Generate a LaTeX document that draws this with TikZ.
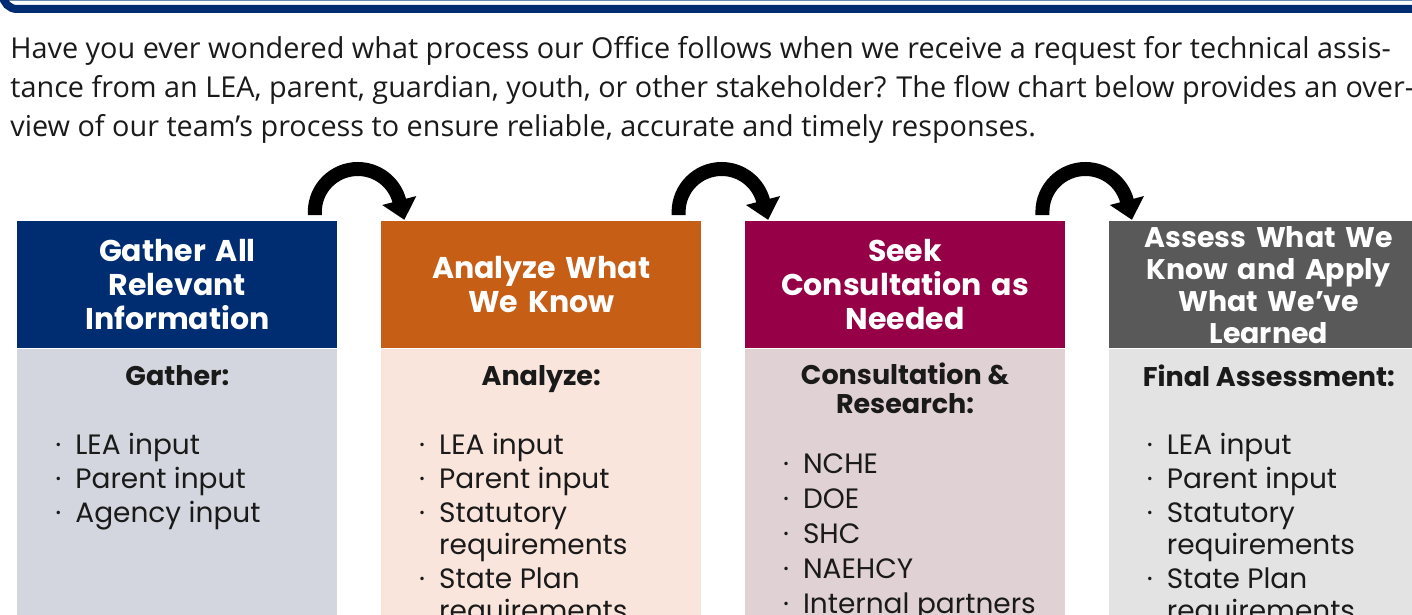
\documentclass[tikz,border=0pt]{standalone}
\usepackage{fontspec}
\setmainfont{Poppins}
\newfontfamily\introfont{Open Sans}
\usetikzlibrary{positioning,arrows.meta}

\definecolor{navyhd}{HTML}{002D72}
\definecolor{orangehd}{HTML}{C65E15}
\definecolor{maroonhd}{HTML}{950046}
\definecolor{grayhd}{HTML}{595959}
\definecolor{navybd}{HTML}{D3D6DE}
\definecolor{orangebd}{HTML}{FAE5DD}
\definecolor{maroonbd}{HTML}{E0D1D5}
\definecolor{graybd}{HTML}{E3E3E3}
\definecolor{framecol}{HTML}{6E88B0}
\definecolor{inktext}{HTML}{1A1A1A}

\newcommand\bul[1]{\makebox[10pt][l]{\textperiodcentered}#1}
\newcommand\cont[1]{\hspace*{10pt}#1}

\begin{document}
\begin{tikzpicture}[x=0.5pt,y=-0.5pt,
	header/.style={rectangle,anchor=north west,inner sep=0pt,minimum width=160pt,
		minimum height=63.5pt,text width=154pt,align=center,text=white,
		font=\bfseries\fontsize{15}{17}\selectfont},
	panel/.style={rectangle,inner sep=0pt,minimum width=160pt,minimum height=140pt},
	subhead/.style={anchor=north,inner sep=0pt,align=center,text=inktext,
		font=\bfseries\fontsize{13.5}{14.5}\selectfont},
	items/.style={anchor=north west,inner sep=0pt,align=left,text=inktext,
		font=\fontsize{14}{16}\selectfont},
	turn/.style={line width=7pt,-{Triangle[length=10pt,width=17pt]}}]
	
	\useasboundingbox (0,0) rectangle (1412,615);
	\clip (0,0) rectangle (1412,615);
	
	% frame of the page above
	\draw[framecol,line width=0.6pt] (0,0.5) -- (1412,0.5);
	\draw[navyhd,line width=4pt,rounded corners=7pt] (3,-30) -- (3,9) -- (1440,9);
	
	\node[anchor=north west,inner sep=0pt,align=left,text=inktext,
		font=\introfont\fontsize{14.4}{19.5}\selectfont] (intro) at (10,36)
		{Have you ever wondered what process our Office follows when we receive a request for technical assis-\\
		tance from an LEA, parent, guardian, youth, or other stakeholder? The flow chart below provides an over-\\
		view of our team’s process to ensure reliable, accurate and timely responses.};
	
	% the four steps
	\node[header,fill=navyhd] (hd1) at (17,221) {Gather All\\Relevant\\Information};
	\node[header,fill=orangehd,right=21.5pt of hd1] (hd2) {Analyze What\\We Know};
	\node[header,fill=maroonhd,right=21.5pt of hd2] (hd3) {Seek\\Consultation as\\Needed};
	\node[header,fill=grayhd,right=21.5pt of hd3,font=\bfseries\fontsize{14.2}{16}\selectfont] (hd4)
		{Assess What We\\Know and Apply\\What We’ve\\Learned};
	
	\node[panel,fill=navybd,below=0pt of hd1] (pn1) {};
	\node[panel,fill=orangebd,below=0pt of hd2] (pn2) {};
	\node[panel,fill=maroonbd,below=0pt of hd3] (pn3) {};
	\node[panel,fill=graybd,below=0pt of hd4] (pn4) {};
	
	\node[subhead] (sh1) at ([yshift=-8pt]pn1.north) {Gather:};
	\node[subhead] (sh2) at ([yshift=-8pt]pn2.north) {Analyze:};
	\node[subhead] (sh3) at ([yshift=-7pt]pn3.north) {Consultation \&\\Research:};
	\node[subhead] (sh4) at ([yshift=-8pt]pn4.north) {Final Assessment:};
	
	\node[items] (it1) at ([xshift=19pt,yshift=-42pt]pn1.north west)
		{\bul{LEA input}\\[1pt]\bul{Parent input}\\[1pt]\bul{Agency input}};
	\node[items] (it2) at ([xshift=19pt,yshift=-42pt]pn2.north west)
		{\bul{LEA input}\\[1pt]\bul{Parent input}\\[1pt]\bul{Statutory}\\\cont{requirements}\\[1pt]
		\bul{State Plan}\\\cont{requirements}};
	\node[items] (it3) at ([xshift=19pt,yshift=-52.5pt]pn3.north west)
		{\bul{NCHE}\\[1.5pt]\bul{DOE}\\[1.5pt]\bul{SHC}\\[1.5pt]\bul{NAEHCY}\\[1.5pt]\bul{Internal partners}};
	\node[items] (it4) at ([xshift=19pt,yshift=-42pt]pn4.north west)
		{\bul{LEA input}\\[1pt]\bul{Parent input}\\[1pt]\bul{Statutory}\\\cont{requirements}\\[1pt]
		\bul{State Plan}\\\cont{requirements}};
	
	% turning arrows between the steps
	\foreach \a in {hd1,hd2,hd3}
		\draw[turn] ([xshift=-11.5pt,yshift=3pt]\a.north east) -- ++(0,-3)
			arc[start angle=180,end angle=15,radius=21.5pt] -- ++(5,19);
\end{tikzpicture}
\end{document}
